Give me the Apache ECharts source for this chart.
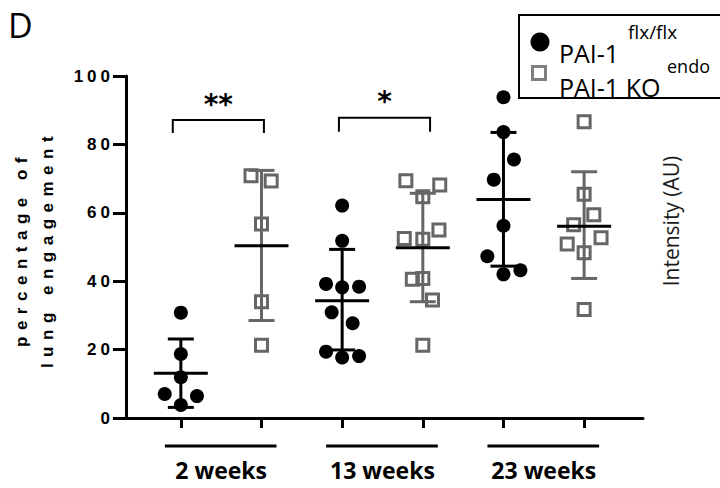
<!DOCTYPE html>
<html><head><meta charset="utf-8">
<script src="https://cdn.jsdelivr.net/npm/echarts@6/dist/echarts.min.js"></script>
<style>html,body{margin:0;padding:0;background:#fff}#chart{width:720px;height:488px}</style>
</head><body><div id="chart"></div>
<script>
// ---------- data ----------
const groups = ['2 weeks', '13 weeks', '23 weeks'];
const seriesNames = ['PAI-1', 'PAI-1 KO'];
const seriesSup = ['flx/flx', 'endo'];
const yTickValues = [0, 20, 40, 60, 80, 100];
const yTitle = ['percentage of', 'lung engagement'];
const sideLabel = 'Intensity (AU)';
const panelLetter = 'D';

// slot (x position in axis units) of each group's two columns
const flxSlot = [1, 3, 5];
const koSlot = [2, 4, 6];

// individual values per group (PAI-1 flx/flx, black circles)
const flxValues = [
  [30.8, 18.7, 11.9, 7.0, 6.4, 3.8],
  [62.1, 51.8, 39.2, 38.2, 38.4, 30.9, 27.7, 19.4, 17.7, 18.1],
  [93.8, 83.6, 75.6, 69.7, 56.2, 47.3, 42.0, 43.2]
];
const flxJitter = [
  [0, 0, 0, -0.2, 0.2, 0],
  [0, 0, -0.2, 0, 0.21, -0.13, 0.13, -0.2, 0, 0.21],
  [0, 0, 0.13, -0.12, 0, -0.2, 0, 0.21]
];
const flxMean = [13.1, 34.3, 63.9];
const flxLow = [3.1, 19.9, 44.4];
const flxHigh = [23.1, 49.3, 83.5];

// individual values per group (PAI-1 KO endo, grey open squares)
const koValues = [
  [70.8, 69.3, 56.7, 34.0, 21.3],
  [69.4, 68.1, 64.7, 52.5, 52.3, 55.0, 40.6, 40.8, 34.5, 21.3],
  [86.6, 65.4, 59.4, 56.5, 50.9, 52.7, 48.3, 31.7]
];
const koJitter = [
  [-0.13, 0.12, 0, 0, 0],
  [-0.21, 0.21, 0, -0.23, 0, 0.2, -0.13, 0, 0.12, 0],
  [0, 0, 0.12, -0.13, -0.21, 0.21, 0, 0]
];
const koMean = [50.4, 49.8, 56.1];
const koLow = [28.5, 34.0, 40.8];
const koHigh = [72.4, 65.7, 72.0];

// significance brackets
const sigStart = [0.9, 2.96];
const sigEnd = [2.03, 4.09];
const sigTop = [87.1, 87.8];
const sigLeg = [83.3, 83.7];
const sigLabel = ['**', '*'];

// ---------- build ----------
const flxPoints = [], koPoints = [];
groups.forEach((g, i) => {
  flxValues[i].forEach((v, j) => flxPoints.push([flxSlot[i] + flxJitter[i][j], v]));
  koValues[i].forEach((v, j) => koPoints.push([koSlot[i] + koJitter[i][j], v]));
});
const flxErr = groups.map((g, i) => [flxSlot[i], flxMean[i], flxLow[i], flxHigh[i]]);
const koErr = groups.map((g, i) => [koSlot[i], koMean[i], koLow[i], koHigh[i]]);
const groupBars = groups.map((g, i) => [flxSlot[i], koSlot[i]]);
const sigData = sigLabel.map((s, i) => [sigStart[i], sigEnd[i], sigTop[i], sigLeg[i], s]);
const groupCenters = groups.map((g, i) => (flxSlot[i] + koSlot[i]) / 2);

function errRender(color) {
  return function (params, api) {
    const x = api.value(0), m = api.value(1), lo = api.value(2), hi = api.value(3);
    const pm = api.coord([x, m]), pl = api.coord([x, lo]), ph = api.coord([x, hi]);
    const st = { stroke: color, lineWidth: 3 };
    return { type: 'group', children: [
      { type: 'line', shape: { x1: pl[0], y1: pl[1], x2: ph[0], y2: ph[1] }, style: st },
      { type: 'line', shape: { x1: ph[0] - 13, y1: ph[1], x2: ph[0] + 13, y2: ph[1] }, style: st },
      { type: 'line', shape: { x1: pl[0] - 13, y1: pl[1], x2: pl[0] + 13, y2: pl[1] }, style: st },
      { type: 'line', shape: { x1: pm[0] - 27, y1: pm[1], x2: pm[0] + 27, y2: pm[1] }, style: { stroke: '#000', lineWidth: 3 } }
    ]};
  };
}

const chart = echarts.init(document.getElementById('chart'), null, { renderer: 'svg' });
const labelFont = 'Liberation Sans';
const option = {
  animation: false,
  backgroundColor: '#fff',
  grid: { left: 126, right: 77, top: 76, bottom: 70 },
  xAxis: {
    type: 'value', min: 0.32, max: 6.73,
    splitLine: { show: false },
    axisLine: { show: true, lineStyle: { color: '#000', width: 3 } },
    axisTick: { show: true, customValues: [1, 2, 3, 4, 5, 6], length: 10, lineStyle: { color: '#000', width: 3 } },
    axisLabel: {
      show: true, customValues: groupCenters, margin: 40,
      formatter: v => { const i = groupCenters.findIndex(c => Math.abs(c - v) < 1e-6); return i >= 0 ? groups[i] : ''; },
      fontFamily: 'Open Sans', fontWeight: 'bold', fontSize: 23, color: '#000'
    }
  },
  yAxis: {
    type: 'value', min: 0, max: 100, interval: 20,
    splitLine: { show: false },
    axisLine: { show: true, lineStyle: { color: '#000', width: 3 } },
    axisTick: { show: true, length: 13, lineStyle: { color: '#000', width: 3 } },
    axisLabel: { margin: 12, fontFamily: labelFont, fontWeight: 'bold', fontSize: 17, color: '#000' }
  },
  series: [
    { name: seriesNames[0], type: 'scatter', data: flxPoints, symbol: 'circle', symbolSize: 14,
      itemStyle: { color: '#000', opacity: 1 }, z: 2 },
    { name: seriesNames[1], type: 'scatter', data: koPoints, symbol: 'rect', symbolSize: 12,
      itemStyle: { color: 'none', borderColor: '#666', borderWidth: 3, opacity: 1 }, z: 2 },
    { type: 'custom', name: 'flxErr', data: flxErr, renderItem: errRender('#000'), z: 3, silent: true },
    { type: 'custom', name: 'koErr', data: koErr, renderItem: errRender('#666'), z: 4, silent: true },
    { type: 'custom', name: 'groupBars', data: groupBars, clip: false, silent: true, z: 5,
      renderItem: (params, api) => {
        const a = api.coord([api.value(0), 0]), b = api.coord([api.value(1), 0]);
        return { type: 'line', shape: { x1: a[0] - 16, y1: a[1] + 28, x2: b[0] + 15, y2: b[1] + 28 },
          style: { stroke: '#000', lineWidth: 3 } };
      } },
    { type: 'custom', name: 'sig', data: sigData, clip: false, silent: true, z: 5,
      renderItem: (params, api) => {
        const t1 = api.coord([api.value(0), api.value(2)]), t2 = api.coord([api.value(1), api.value(2)]);
        const l1 = api.coord([api.value(0), api.value(3)]), l2 = api.coord([api.value(1), api.value(3)]);
        return { type: 'group', children: [
          { type: 'polyline', shape: { points: [l1, t1, t2, l2] }, style: { stroke: '#000', lineWidth: 2, fill: null } },
          { type: 'text', x: (t1[0] + t2[0]) / 2, y: t1[1] - 16,
            style: { text: sigData[params.dataIndex][4], fontFamily: 'DejaVu Sans', fontWeight: 'bold', fontSize: 28, fill: '#000', align: 'center', verticalAlign: 'middle' } }
        ]};
      } }
  ],
  graphic: [
    { type: 'text', left: 8, top: 8, style: { text: panelLetter, fontFamily: 'Open Sans', fontSize: 34, fill: '#000' } },
    { type: 'text', x: 21, y: 249, rotation: Math.PI / 2,
      style: { text: yTitle[0], fontFamily: labelFont, fontWeight: 'bold', fontSize: 17, fill: '#000', align: 'center', verticalAlign: 'middle' } },
    { type: 'text', x: 47, y: 249, rotation: Math.PI / 2,
      style: { text: yTitle[1], fontFamily: labelFont, fontWeight: 'bold', fontSize: 17, fill: '#000', align: 'center', verticalAlign: 'middle' } },
    { type: 'text', x: 671, y: 221, rotation: Math.PI / 2,
      style: { text: sideLabel, fontFamily: 'Open Sans', fontSize: 21, fill: '#1a1a1a', align: 'center', verticalAlign: 'middle' } },
    // legend
    { type: 'rect', shape: { x: 519, y: 15, width: 215, height: 83 }, style: { fill: 'none', stroke: '#000', lineWidth: 2 } },
    { type: 'circle', shape: { cx: 540, cy: 42, r: 9.5 }, style: { fill: '#000' } },
    { type: 'rect', shape: { x: 532.5, y: 66.5, width: 13, height: 13 }, style: { fill: 'none', stroke: '#808080', lineWidth: 3 } },
    { type: 'text', x: 559, y: 53, style: { text: seriesNames[0], fontFamily: 'Open Sans', fontSize: 25, fill: '#000', align: 'left', verticalAlign: 'middle' } },
    { type: 'text', x: 628, y: 32, style: { text: seriesSup[0], fontFamily: 'Open Sans', fontSize: 19, fill: '#000', align: 'left', verticalAlign: 'middle' } },
    { type: 'text', x: 559, y: 87, style: { text: seriesNames[1], fontFamily: 'Open Sans', fontSize: 25, fill: '#000', align: 'left', verticalAlign: 'middle' } },
    { type: 'text', x: 667, y: 66, style: { text: seriesSup[1], fontFamily: 'Open Sans', fontSize: 18, fill: '#000', align: 'left', verticalAlign: 'middle' } }
  ]
};
chart.setOption(option);

function applySpacing() {
  const tickStrs = yTickValues.map(String);
  document.querySelectorAll('#chart text').forEach(t => {
    const s = t.textContent;
    if (tickStrs.includes(s)) t.style.letterSpacing = '4px';
    else if (yTitle.includes(s)) t.style.letterSpacing = '6.5px';
  });
}
applySpacing();
chart.on('finished', applySpacing);
</script>
</body></html>
